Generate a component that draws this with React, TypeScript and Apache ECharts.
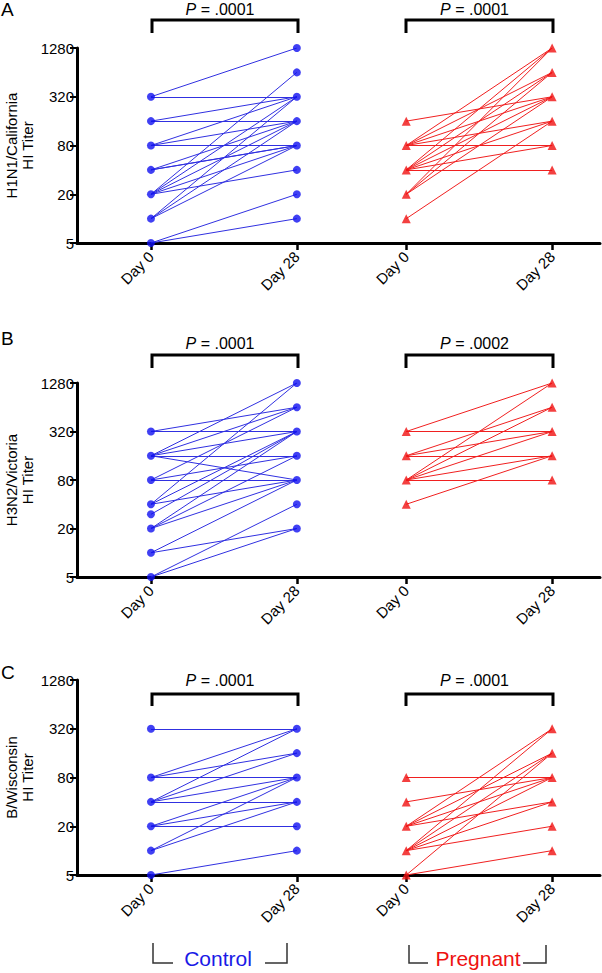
import { useEffect, useRef } from "react";
import * as echarts from "echarts";

// ---------- data ----------
const dayLabels = ["Day 0", "Day 28"];
const groupNames = ["Control", "Pregnant"];
const panelLetters = ["A", "B", "C"];
const strainNames = ["H1N1/California", "H3N2/Victoria", "B/Wisconsin"];
const pValuesControl = [".0001", ".0001", ".0001"];
const pValuesPregnant = [".0001", ".0002", ".0001"];
const yTickLabels = [5, 20, 80, 320, 1280];

// Panel A (H1N1/California)
const controlA_day0 = [320, 320, 160, 160, 80, 80, 80, 40, 40, 40, 20, 20, 20, 20, 20, 10, 10, 10, 5, 5];
const controlA_day28 = [1280, 320, 320, 160, 320, 160, 80, 160, 80, 80, 640, 320, 160, 80, 40, 320, 160, 80, 20, 10];
const pregnantA_day0 = [160, 80, 80, 80, 80, 80, 40, 40, 40, 40, 40, 40, 20, 20, 20, 10];
const pregnantA_day28 = [320, 1280, 640, 320, 160, 80, 1280, 640, 320, 160, 80, 40, 1280, 640, 320, 160];

// Panel B (H3N2/Victoria)
const controlB_day0 = [320, 320, 160, 160, 160, 160, 160, 80, 80, 80, 40, 40, 40, 30, 20, 20, 20, 10, 10, 5, 5];
const controlB_day28 = [640, 320, 1280, 640, 320, 160, 80, 640, 160, 80, 1280, 320, 80, 320, 320, 160, 80, 80, 20, 40, 20];
const pregnantB_day0 = [320, 320, 160, 160, 160, 80, 80, 80, 80, 80, 40];
const pregnantB_day28 = [1280, 320, 640, 320, 160, 1280, 640, 320, 160, 80, 160];

// Panel C (B/Wisconsin)
const controlC_day0 = [320, 80, 80, 80, 40, 40, 40, 40, 20, 20, 20, 10, 10, 5];
const controlC_day28 = [320, 320, 160, 80, 320, 160, 80, 40, 80, 40, 20, 80, 40, 10];
const pregnantC_day0 = [80, 40, 20, 20, 20, 20, 10, 10, 10, 10, 10, 5, 5];
const pregnantC_day28 = [80, 80, 320, 160, 80, 40, 320, 160, 80, 40, 20, 160, 10];

// ---------- layout ----------
const FONT = "'Liberation Sans', Arial, Helvetica, sans-serif";
const BLUE_PT = "#1010f0";
const BLUE_LN = "#3030e0";
const RED_PT = "#f01010";
const RED_LN = "#f02020";
const GROUP_OFFSET = [0, 1.75];
const panelLayout = [
  { top: 48, height: 195, bracketY: 20, legY: 33, pY: 9, letterY: 9 },
  { top: 383, height: 194, bracketY: 355, legY: 368, pY: 343, letterY: 338 },
  { top: 680, height: 195, bracketY: 694, legY: 706, pY: 680, letterY: 672 },
];
const BRACKETS_X = [
  [152, 298],
  [406, 553],
];

const panelData = [
  { control: [controlA_day0, controlA_day28], pregnant: [pregnantA_day0, pregnantA_day28] },
  { control: [controlB_day0, controlB_day28], pregnant: [pregnantB_day0, pregnantB_day28] },
  { control: [controlC_day0, controlC_day28], pregnant: [pregnantC_day0, pregnantC_day28] },
];

const base = yTickLabels[0];
const tr = (v: number) => Math.log2(v / base);

export default function App() {
  const ref = useRef<HTMLDivElement>(null);
  useEffect(() => {
    if (!ref.current) return;
    const chart = echarts.init(ref.current, null, { renderer: "svg" });

    const grids: any[] = [];
    const xAxes: any[] = [];
    const yAxes: any[] = [];
    const series: any[] = [];
    const graphic: any[] = [];

    panelData.forEach((pd, i) => {
      const L = panelLayout[i];
      grids.push({ left: 77, top: L.top, width: 523, height: L.height, containLabel: false, outerBoundsMode: "none" });
      const tickVals: number[] = [];
      GROUP_OFFSET.forEach((o) => dayLabels.forEach((_, d) => tickVals.push(o + d)));
      xAxes.push({
        type: "value",
        gridIndex: i,
        min: -0.507,
        max: 3.078,
        splitLine: { show: false },
        axisLine: { onZero: false, lineStyle: { color: "#000", width: 3 } },
        axisTick: { customValues: tickVals, length: 7, lineStyle: { color: "#000", width: 2.5 } },
        axisLabel: {
          customValues: tickVals,
          rotate: 45,
          margin: 11,
          fontSize: 15,
          fontFamily: FONT,
          color: "#000",
          formatter: (v: number) => {
            const d = Math.round(v - (v >= GROUP_OFFSET[1] - 0.01 ? GROUP_OFFSET[1] : 0));
            return dayLabels[d];
          },
        },
      });
      yAxes.push({
        type: "value",
        gridIndex: i,
        min: 0,
        max: tr(yTickLabels[yTickLabels.length - 1]),
        interval: 2,
        splitLine: { show: false },
        axisLine: { show: true, onZero: false, lineStyle: { color: "#000", width: 3 } },
        axisTick: { show: true, length: 7, lineStyle: { color: "#000", width: 2 } },
        axisLabel: {
          fontSize: 15,
          fontFamily: FONT,
          color: "#000",
          margin: 3,
          formatter: (v: number) => String(Math.round(base * Math.pow(2, v))),
        },
        name: strainNames[i] + "\nHI Titer",
        nameLocation: "middle",
        nameRotate: 90,
        nameGap: 42,
        nameMoveOverlap: false,
        nameTextStyle: { fontSize: 15, fontFamily: FONT, color: "#000", lineHeight: 16 },
      });

      const groups = [pd.control, pd.pregnant];
      groups.forEach((g, gi) => {
        const off = GROUP_OFFSET[gi];
        const [d0, d28] = g;
        const lineColor = gi === 0 ? BLUE_LN : RED_LN;
        const ptColor = gi === 0 ? BLUE_PT : RED_PT;
        series.push({
          type: "lines",
          coordinateSystem: "cartesian2d",
          xAxisIndex: i,
          yAxisIndex: i,
          silent: true,
          lineStyle: { color: lineColor, width: 1, opacity: 1 },
          data: d0.map((v, k) => ({ coords: [[off, tr(v)], [off + 1, tr(d28[k])]] })),
        });
        const pts = new Set<string>();
        const ptData: number[][] = [];
        d0.forEach((v) => {
          const key = "0_" + v;
          if (!pts.has(key)) { pts.add(key); ptData.push([off, tr(v)]); }
        });
        d28.forEach((v) => {
          const key = "1_" + v;
          if (!pts.has(key)) { pts.add(key); ptData.push([off + 1, tr(v)]); }
        });
        series.push({
          type: "scatter",
          xAxisIndex: i,
          yAxisIndex: i,
          symbol: gi === 0 ? "circle" : "triangle",
          symbolSize: gi === 0 ? 8 : 9,
          clip: false,
          itemStyle: { color: ptColor },
          data: ptData,
          z: 5,
        });

        // significance bracket
        const [bx0, bx1] = BRACKETS_X[gi];
        graphic.push({
          type: "polyline",
          shape: { points: [[bx0, L.legY], [bx0, L.bracketY], [bx1, L.bracketY], [bx1, L.legY]] },
          style: { stroke: "#000", lineWidth: 3, fill: null },
        });
        const p = gi === 0 ? pValuesControl[i] : pValuesPregnant[i];
        graphic.push({
          type: "text",
          x: (bx0 + bx1) / 2 - 5,
          y: L.pY,
          style: {
            text: "{i|P} = " + p,
            fill: "#000",
            font: `16px ${FONT}`,
            align: "center",
            verticalAlign: "middle",
            rich: { i: { fontStyle: "italic", fontSize: 16, fontFamily: FONT, fill: "#000" } },
          },
        });
      });

      graphic.push({
        type: "text",
        x: 1,
        y: L.letterY,
        style: { text: panelLetters[i], fill: "#000", font: `19px ${FONT}`, align: "left", verticalAlign: "middle" },
      });
    });

    // group labels at bottom
    const groupLabelBoxes = [
      { l: 153, lEnd: 173, r: 287, rStart: 265, topY: 943, cx: 218, color: "#1a1ae6" },
      { l: 409, lEnd: 428, r: 546, rStart: 523, topY: 945, cx: 478, color: "#ee1111" },
    ];
    groupLabelBoxes.forEach((b, gi) => {
      graphic.push({
        type: "polyline",
        shape: { points: [[b.l, b.topY], [b.l, 963], [b.lEnd, 963]] },
        style: { stroke: "#333", lineWidth: 1.5, fill: null },
      });
      graphic.push({
        type: "polyline",
        shape: { points: [[b.rStart, 963], [b.r, 963], [b.r, b.topY]] },
        style: { stroke: "#333", lineWidth: 1.5, fill: null },
      });
      graphic.push({
        type: "text",
        x: b.cx,
        y: 958,
        style: { text: groupNames[gi], fill: b.color, font: `21px ${FONT}`, align: "center", verticalAlign: "middle" },
      });
    });

    chart.setOption({
      animation: false,
      backgroundColor: "#fff",
      textStyle: { fontFamily: FONT },
      grid: grids,
      xAxis: xAxes,
      yAxis: yAxes,
      series,
      graphic,
    });
    return () => chart.dispose();
  }, []);
  return (
    <div
      ref={ref}
      style={{ position: "fixed", left: 0, top: 0, width: 602, height: 973, background: "#fff" }}
    />
  );
}
